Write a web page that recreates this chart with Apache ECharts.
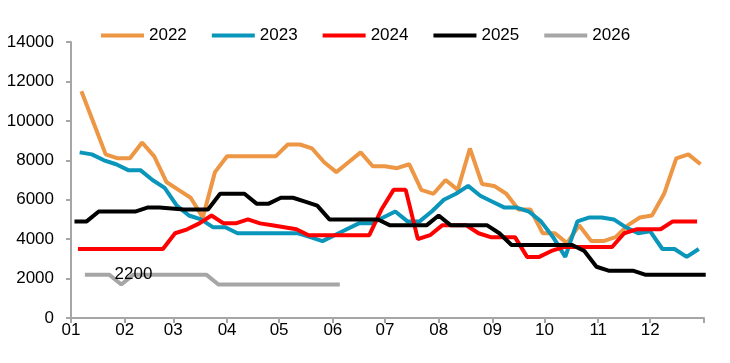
<!DOCTYPE html>
<html>
<head>
<meta charset="utf-8">
<script src="https://cdn.jsdelivr.net/npm/echarts@6/dist/echarts.min.js"></script>
<style>
  html, body { margin: 0; padding: 0; background: #fff; }
  #chart { width: 730px; height: 363px; }
</style>
</head>
<body>
<div id="chart"></div>
<script>
// 周度数据，x 轴按一年中的天数定位
var monthStarts = [0, 31, 59, 90, 120, 151, 181, 212, 243, 273, 304, 334, 365];
var monthLabels = ["01", "02", "03", "04", "05", "06", "07", "08", "09", "10", "11", "12", ""];

var years = ["2022", "2023", "2024", "2025", "2026"];
var startDays = [6, 5, 4, 2, 8]; // 每年第一个数据点所在的天

var s2022 = [11500, 9900, 8300, 8100, 8100, 8900, 8200, 6900, 6500, 6100,
  5100, 7400, 8200, 8200, 8200, 8200, 8200, 8800, 8800, 8600,
  7900, 7400, 7900, 8400, 7700, 7700, 7600, 7800, 6500, 6300,
  7000, 6500, 8600, 6800, 6700, 6300, 5500, 5500, 4300, 4300,
  3800, 4700, 3900, 3900, 4100, 4700, 5100, 5200, 6300, 8100,
  8300, 7800];
var s2023 = [8400, 8300, 8000, 7800, 7500, 7500, 7000, 6600, 5700, 5200,
  5000, 4600, 4600, 4300, 4300, 4300, 4300, 4300, 4300, 4100,
  3900, 4200, 4500, 4800, 4800, 5100, 5400, 4900, 4900, 5400,
  6000, 6300, 6700, 6200, 5900, 5600, 5600, 5400, 4900, 4100,
  3100, 4900, 5100, 5100, 5000, 4600, 4300, 4400, 3500, 3500,
  3100, 3500];
var s2024 = [3500, 3500, 3500, 3500, 3500, 3500, 3500, 3500, 4300, 4500,
  4800, 5200, 4800, 4800, 5000, 4800, 4700, 4600, 4500, 4200,
  4200, 4200, 4200, 4200, 4200, 5500, 6500, 6500, 4000, 4200,
  4700, 4700, 4700, 4300, 4100, 4100, 4100, 3100, 3100, 3400,
  3600, 3600, 3600, 3600, 3600, 4300, 4500, 4500, 4500, 4900,
  4900, 4900];
var s2025 = [4900, 4900, 5400, 5400, 5400, 5400, 5600, 5600, 5550, 5500,
  5500, 5500, 6300, 6300, 6300, 5800, 5800, 6100, 6100, 5900,
  5700, 5000, 5000, 5000, 5000, 5000, 4700, 4700, 4700, 4700,
  5200, 4700, 4700, 4700, 4700, 4300, 3700, 3700, 3700, 3700,
  3700, 3700, 3400, 2600, 2400, 2400, 2400, 2200, 2200, 2200,
  2200, 2200, 2200];
var s2026 = [2200, 2200, 2200, 1700, 2200, 2200, 2200, 2200, 2200, 2200,
  2200, 1700, 1700, 1700, 1700, 1700, 1700, 1700, 1700, 1700,
  1700, 1700];
var labelIndex2026 = 4; // 标注 "2200" 的点

var colors = ["#ED9644", "#0A95BA", "#FF0000", "#000000", "#A6A6A6"];
var yearValues = [s2022, s2023, s2024, s2025, s2026];

var font = "Liberation Sans, Arial, sans-serif";

function toPoints(values, start) {
  return values.map(function (v, i) {
    return [start + 7 * i, v];
  });
}

var series = years.map(function (y, k) {
  var s = {
    name: y,
    type: "line",
    data: toPoints(yearValues[k], startDays[k]),
    showSymbol: false,
    symbol: "none",
    color: colors[k],
    lineStyle: { width: 4, color: colors[k] },
    emphasis: { disabled: true },
    animation: false
  };
  if (k === 4) {
    var pt = s.data[labelIndex2026];
    s.markPoint = {
      symbol: "circle",
      symbolSize: 0,
      silent: true,
      data: [{ coord: pt, value: pt[1] }],
      label: {
        show: true,
        position: "inside",
        color: "#000",
        fontSize: 17,
        fontFamily: font
      }
    };
  }
  return s;
});

var myChart = echarts.init(document.getElementById("chart"));
myChart.setOption({
  animation: false,
  textStyle: { fontFamily: font },
  legend: {
    data: years,
    left: 101,
    top: 27,
    padding: 0,
    icon: "rect",
    itemWidth: 43,
    itemHeight: 4,
    itemGap: 25,
    textStyle: { color: "#000", fontSize: 17, fontFamily: font }
  },
  grid: {
    left: 71,
    right: 26,
    top: 42,
    bottom: 45,
    containLabel: false
  },
  xAxis: {
    type: "value",
    min: 0,
    max: 365,
    axisLine: { show: true, lineStyle: { color: "#A6A6A6", width: 2 } },
    axisTick: {
      show: true,
      inside: false,
      length: 5,
      customValues: monthStarts,
      lineStyle: { color: "#A6A6A6", width: 2 }
    },
    axisLabel: {
      customValues: monthStarts.slice(0, 12),
      color: "#000",
      fontSize: 17,
      fontFamily: font,
      margin: 4,
      formatter: function (v) {
        var idx = monthStarts.indexOf(v);
        return idx >= 0 ? monthLabels[idx] : "";
      }
    },
    splitLine: { show: false }
  },
  yAxis: {
    type: "value",
    min: 0,
    max: 14000,
    interval: 2000,
    axisLine: { show: true, lineStyle: { color: "#A6A6A6", width: 2 } },
    axisTick: { show: true, length: 5, lineStyle: { color: "#A6A6A6", width: 2 } },
    axisLabel: {
      color: "#000",
      fontSize: 17,
      fontFamily: font,
      margin: 17,
      formatter: function (v) { return String(v); }
    },
    splitLine: { show: false }
  },
  series: series
});
</script>
</body>
</html>
